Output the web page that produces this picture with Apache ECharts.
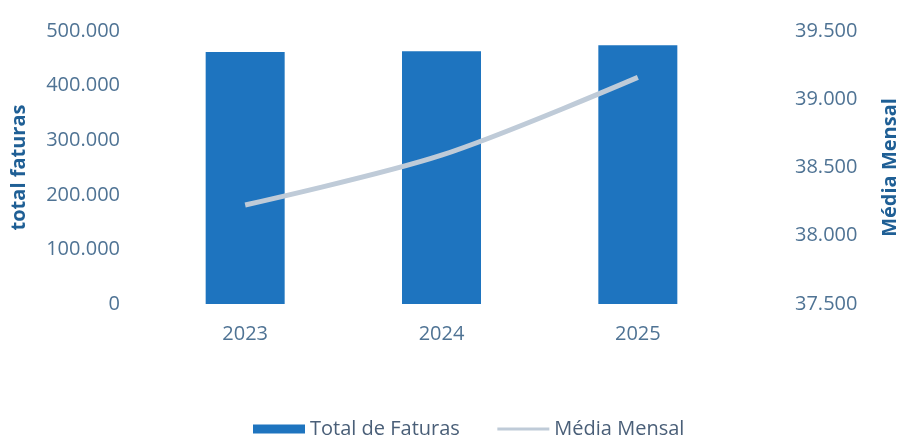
<!DOCTYPE html>
<html>
<head>
<meta charset="utf-8">
<script src="https://cdn.jsdelivr.net/npm/echarts@6/dist/echarts.min.js"></script>
<style>html,body{margin:0;padding:0;background:#fff}#c{width:897px;height:437px}</style>
</head>
<body>
<div id="c"></div>
<script>
const categories = ['2023', '2024', '2025'];
const totalFaturas = [461500, 463000, 474000];
const mediaMensal = [38225, 38590, 39160];

function fmt(v) {
  return String(Math.round(v)).replace(/\B(?=(\d{3})+(?!\d))/g, '.');
}

const chart = echarts.init(document.getElementById('c'));
const labelColor = '#4f7394';
const titleColor = '#1f5f95';
const lineColor = '#bfcbd8';
chart.setOption({
  animation: false,
  textStyle: { fontFamily: 'Open Sans' },
  grid: { left: 147, right: 161, top: 31, bottom: 133, outerBoundsMode: 'none', containLabel: false },
  legend: {
    top: 414,
    left: 248,
    itemGap: 36,
    itemWidth: 52,
    itemHeight: 9,
    textStyle: { color: '#4a5f78', fontSize: 20, fontFamily: 'Open Sans' },
    data: [
      { name: 'Total de Faturas', icon: 'rect' },
      { name: 'Média Mensal', itemStyle: { opacity: 0 }, lineStyle: { width: 3, color: lineColor } }
    ]
  },
  xAxis: {
    type: 'category',
    data: categories,
    axisLine: { show: false },
    axisTick: { show: false },
    axisLabel: { color: labelColor, fontSize: 20, margin: 20 }
  },
  yAxis: [
    {
      type: 'value', min: 0, max: 500000, interval: 100000,
      name: 'total faturas', nameLocation: 'middle', nameGap: 118, nameRotate: 90,
      nameTextStyle: { color: titleColor, fontSize: 20, fontWeight: 'bold' },
      splitLine: { show: false },
      axisLine: { show: false }, axisTick: { show: false },
      axisLabel: { color: labelColor, fontSize: 20, margin: 27, formatter: fmt }
    },
    {
      type: 'value', min: 37500, max: 39500, interval: 500,
      name: 'Média Mensal', nameLocation: 'middle', nameGap: 144, nameRotate: 90,
      nameTextStyle: { color: titleColor, fontSize: 20, fontWeight: 'bold' },
      splitLine: { show: false },
      axisLine: { show: false }, axisTick: { show: false },
      axisLabel: { color: labelColor, fontSize: 20, margin: 59, formatter: fmt }
    }
  ],
  series: [
    {
      name: 'Total de Faturas', type: 'bar', data: totalFaturas,
      barWidth: 79, itemStyle: { color: '#1e74bf' }
    },
    {
      name: 'Média Mensal', type: 'line', yAxisIndex: 1, data: mediaMensal,
      smooth: 0.3, symbol: 'none',
      lineStyle: { color: lineColor, width: 5 },
      itemStyle: { color: lineColor }
    }
  ]
});
</script>
</body>
</html>
